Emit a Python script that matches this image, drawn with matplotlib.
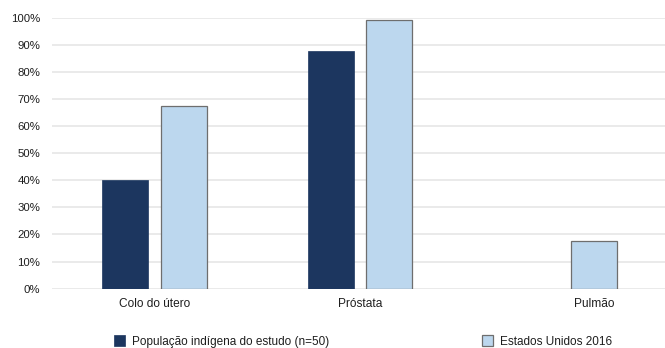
import numpy as np
import matplotlib.pyplot as plt
from matplotlib.patches import Patch

plt.rcParams['font.family'] = ['Liberation Sans', 'DejaVu Sans']

categories = ['Colo do útero', 'Próstata', 'Pulmão']
indigena = [40, 87.5, 0]
eua_2016 = [67.5, 99, 17.5]
yticks = [0, 10, 20, 30, 40, 50, 60, 70, 80, 90, 100]

dark = '#1c365f'
light = '#bcd7ee'
edge = '#6e6e6e'
grid_c = '#e6e6e6'
txt = '#1e1e1e'

fig = plt.figure(figsize=(6.65, 3.48), dpi=100)
ax = fig.add_axes([0.078, 0.1704, 0.922, 0.7793])

x = np.arange(len(categories))
w = 0.224
off = 0.1425

ax.bar(x - off, indigena, w, color=dark, edgecolor=dark, linewidth=0.5, zorder=3)
ax.bar(x + off, eua_2016, w, color=light, edgecolor=edge, linewidth=0.9, zorder=3)

# label sits under the bars that actually have a value
label_pos = []
for i in range(len(categories)):
    pos = [x[i] - off] if indigena[i] > 0 else []
    pos += [x[i] + off] if eua_2016[i] > 0 else []
    label_pos.append(np.mean(pos))

ax.set_xlim(-0.5, 2.4866)
ax.set_ylim(0, 100)
ax.set_xticks(label_pos)
ax.set_xticklabels(categories, fontsize=8.6, color=txt)
ax.set_yticks(yticks)
ax.set_yticklabels([f'{v}%' for v in yticks], fontsize=8.2, color=txt)
ax.tick_params(axis='x', length=0, pad=7)
ax.tick_params(axis='y', length=0, pad=8.5)

ax.grid(axis='y', color=grid_c, linewidth=1.2, zorder=0)
ax.set_axisbelow(True)
for s in ax.spines.values():
    s.set_visible(False)

h1 = Patch(facecolor=dark, edgecolor=dark, linewidth=0.5)
h2 = Patch(facecolor=light, edgecolor=edge, linewidth=0.9)
for h, lab, xa in [(h1, 'População indígena do estudo (n=50)', 114 / 665),
                   (h2, 'Estados Unidos 2016', 482 / 665)]:
    fig.legend([h], [lab], loc='center left', bbox_to_anchor=(xa, 6.5 / 348),
               frameon=False, borderpad=0, borderaxespad=0, fontsize=8.5,
               handlelength=0.95, handleheight=0.95, handletextpad=0.6,
               labelcolor=txt)

fig.savefig('out.png', dpi=100)
